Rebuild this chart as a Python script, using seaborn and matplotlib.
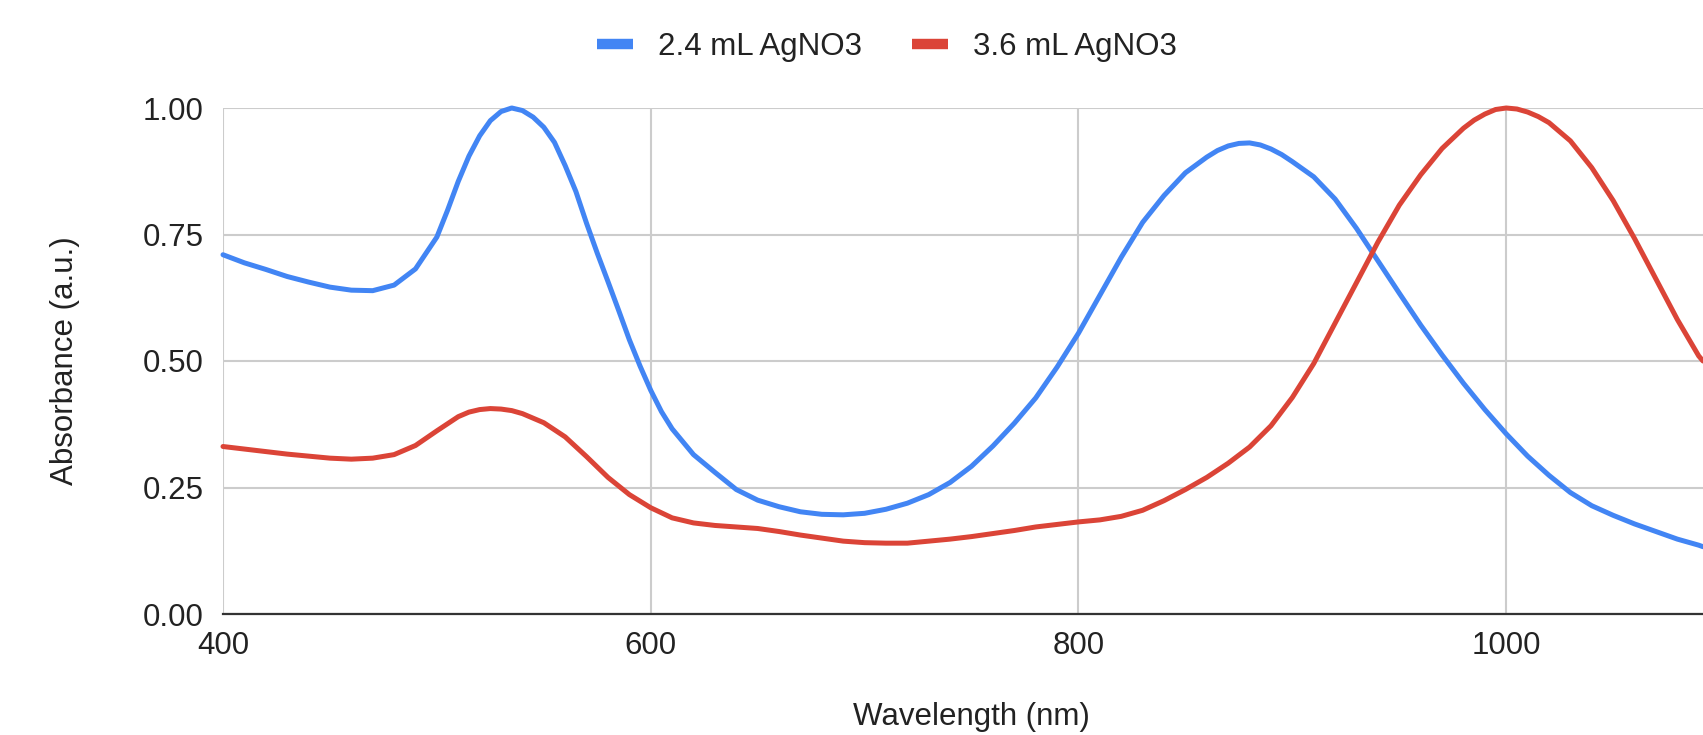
import numpy as np
import pandas as pd
import matplotlib
matplotlib.use("Agg")
import matplotlib.pyplot as plt
from matplotlib.lines import Line2D
import seaborn as sns

# ---- data ----
wl_24 = [400, 410, 420, 430, 440, 450, 460, 470, 480, 490,
         500, 505, 510, 515, 520, 525, 530, 535, 540, 545, 550, 555, 560, 565,
         570, 575, 580, 585, 590, 595, 600, 605, 610, 620, 630, 640, 650, 660,
         670, 680, 690, 700, 710, 720, 730, 740, 750, 760, 770, 780, 790,
         800, 810, 820, 830, 840, 850, 860, 865, 870, 875, 880, 885, 890, 895,
         900, 910, 920, 930, 940, 950, 960, 970, 980, 990,
         1000, 1010, 1020, 1030, 1040, 1050, 1060, 1070, 1080, 1090, 1092]
abs_24 = [0.710, 0.694, 0.681, 0.667, 0.656, 0.646, 0.640, 0.639, 0.650, 0.682,
          0.745, 0.798, 0.855, 0.905, 0.945, 0.975, 0.993, 1.000, 0.995, 0.982, 0.962, 0.932, 0.886, 0.835,
          0.772, 0.713, 0.657, 0.600, 0.542, 0.490, 0.442, 0.400, 0.366, 0.315, 0.280, 0.246, 0.225, 0.212,
          0.202, 0.197, 0.196, 0.199, 0.207, 0.219, 0.236, 0.260, 0.292, 0.332, 0.377, 0.427, 0.488,
          0.555, 0.630, 0.705, 0.774, 0.827, 0.872, 0.903, 0.916, 0.925, 0.930, 0.931, 0.927, 0.919, 0.908,
          0.894, 0.864, 0.820, 0.762, 0.698, 0.634, 0.571, 0.512, 0.456, 0.404,
          0.356, 0.312, 0.274, 0.240, 0.214, 0.195, 0.178, 0.163, 0.148, 0.136, 0.133]

wl_36 = [400, 410, 420, 430, 440, 450, 460, 470, 480, 490,
         500, 510, 515, 520, 525, 530, 535, 540, 550, 560, 570, 580, 590,
         600, 610, 620, 630, 640, 650, 660, 670, 680, 690,
         700, 710, 720, 730, 740, 750, 760, 770, 780, 790,
         800, 810, 820, 830, 840, 850, 860, 870, 880, 890,
         900, 910, 920, 930, 940, 950, 960, 970, 980, 985, 990, 995,
         1000, 1005, 1010, 1015, 1020, 1030, 1040, 1050, 1060, 1070, 1080, 1090, 1092]
abs_36 = [0.331, 0.326, 0.321, 0.316, 0.312, 0.308, 0.306, 0.308, 0.315, 0.333,
          0.362, 0.390, 0.399, 0.404, 0.406, 0.405, 0.402, 0.396, 0.378, 0.350, 0.311, 0.270, 0.236,
          0.210, 0.190, 0.180, 0.175, 0.172, 0.169, 0.163, 0.156, 0.150, 0.144,
          0.141, 0.140, 0.140, 0.144, 0.148, 0.153, 0.159, 0.165, 0.172, 0.177,
          0.182, 0.186, 0.193, 0.205, 0.224, 0.246, 0.270, 0.298, 0.330, 0.372,
          0.428, 0.495, 0.575, 0.655, 0.735, 0.808, 0.868, 0.920, 0.960, 0.976, 0.988, 0.997,
          1.000, 0.998, 0.992, 0.983, 0.971, 0.935, 0.882, 0.817, 0.742, 0.662, 0.582, 0.510, 0.500]

series_names = ["2.4 mL AgNO3", "3.6 mL AgNO3"]
series_colors = ["#4285F4", "#DB4437"]
y_ticks = [0.00, 0.25, 0.50, 0.75, 1.00]
x_ticks = [400, 600, 800, 1000]

df = pd.concat([
    pd.DataFrame({"Wavelength (nm)": wl_24, "Absorbance (a.u.)": abs_24, "Series": series_names[0]}),
    pd.DataFrame({"Wavelength (nm)": wl_36, "Absorbance (a.u.)": abs_36, "Series": series_names[1]}),
], ignore_index=True)

sns.set_theme(style="whitegrid")
plt.rcParams["font.family"] = ["Liberation Sans", "DejaVu Sans"]
plt.rcParams["text.color"] = "#222222"

fig = plt.figure(figsize=(17.03, 7.35), dpi=100)
ax = fig.add_axes([223 / 1703, 1 - 614 / 735, 1 - 223 / 1703, (614 - 108) / 735])

sns.lineplot(data=df, x="Wavelength (nm)", y="Absorbance (a.u.)", hue="Series",
             palette=dict(zip(series_names, series_colors)), linewidth=3.6,
             ax=ax, legend=False, estimator=None, sort=True)
for ln in ax.lines:
    ln.set_clip_on(False)
    ln.set_solid_capstyle("round")
    ln.set_solid_joinstyle("round")

ax.set_xlim(400, 1092)
ax.set_ylim(0, 1.0)
ax.set_xticks(x_ticks)
ax.set_yticks(y_ticks)
ax.set_yticklabels([f"{v:.2f}" for v in y_ticks])
ax.set_xticklabels([str(v) for v in x_ticks])

fs = 22.5
ax.tick_params(axis="both", length=0, labelsize=fs, colors="#222222")
ax.tick_params(axis="y", pad=14)
ax.tick_params(axis="x", pad=12)

ax.grid(True, color="#cccccc", linewidth=1.5)
ax.set_axisbelow(True)
for s in ["top", "right", "left"]:
    ax.spines[s].set_visible(False)
ax.spines["bottom"].set_visible(True)
ax.spines["bottom"].set_color("#333333")
ax.spines["bottom"].set_linewidth(1.6)
ax.spines["bottom"].set_zorder(1.5)

ax.set_xlabel("Wavelength (nm)", fontsize=fs, color="#222222")
ax.set_ylabel("Absorbance (a.u.)", fontsize=fs, color="#222222")
ax.xaxis.set_label_coords((971 - 223) / 1480, (614 - 717) / 506)
ax.xaxis.label.set_va("center")
ax.yaxis.set_label_coords((65 - 223) / 1480, 0.5)
ax.yaxis.label.set_va("center")

handles = [Line2D([0], [0], color=c, linewidth=7.5, solid_capstyle="butt") for c in series_colors]
fig.legend(handles, series_names, loc="center", bbox_to_anchor=(887 / 1703, 1 - 47 / 735),
           ncol=2, frameon=False, fontsize=fs, handlelength=1.15, handletextpad=0.8,
           columnspacing=1.6)

fig.savefig("out.png", dpi=100, facecolor="white")
